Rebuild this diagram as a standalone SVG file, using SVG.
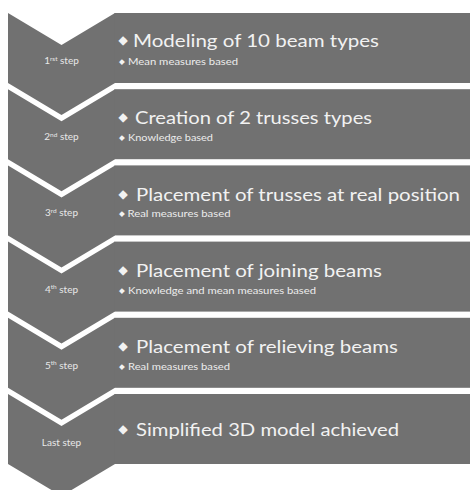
<svg xmlns="http://www.w3.org/2000/svg" width="470" height="490" viewBox="0 0 470 490">
<style>
.shape{fill:#717171}
.title{font-family:Lato,"Open Sans","Liberation Sans",sans-serif;font-size:17.5px;fill:#f2f2f2}
.sub{font-family:Lato,"Open Sans","Liberation Sans",sans-serif;font-size:8.8px;fill:#ececec}
.step{font-family:Lato,"Open Sans","Liberation Sans",sans-serif;font-size:10px;fill:#e8e8e8;text-anchor:middle}
.sup{font-size:6.5px}
.bul{font-family:"DejaVu Sans",sans-serif;fill:#f2f2f2}
.bt{font-size:12px}
.bs{font-size:7.5px}
</style>
<rect width="470" height="490" fill="#ffffff"/>
<g id="step1">
<polygon class="shape" points="8,13 61.5,45 115,13 115,83 61.5,115 8,83"/>
<rect class="shape" x="114.5" y="13" width="355.5" height="70"/>
<text class="step" x="61.5" y="64">1<tspan class="sup" dy="-3.5">rst</tspan><tspan dy="3.5"> step</tspan></text>
<text class="bul bt" x="118.5" y="44">◆</text>
<text class="title" x="133" y="47" textLength="246" lengthAdjust="spacingAndGlyphs">Modeling of 10 beam types</text>
<text class="bul bs" x="119" y="64">◆</text>
<text class="sub" x="128" y="65" textLength="110" lengthAdjust="spacingAndGlyphs">Mean measures based</text>
</g>
<g id="step2">
<polygon class="shape" points="8,89.2 61.5,121.2 115,89.2 115,159.2 61.5,191.2 8,159.2"/>
<rect class="shape" x="114.5" y="89.2" width="355.5" height="70"/>
<text class="step" x="61.5" y="140.2">2<tspan class="sup" dy="-3.5">nd</tspan><tspan dy="3.5"> step</tspan></text>
<text class="bul bt" x="118.5" y="120.5">◆</text>
<text class="title" x="135" y="123.5" textLength="237" lengthAdjust="spacingAndGlyphs">Creation of 2 trusses types</text>
<text class="bul bs" x="119" y="140.2">◆</text>
<text class="sub" x="128" y="141.2" textLength="85" lengthAdjust="spacingAndGlyphs">Knowledge based</text>
</g>
<g id="step3">
<polygon class="shape" points="8,165.4 61.5,197.4 115,165.4 115,235.4 61.5,267.4 8,235.4"/>
<rect class="shape" x="114.5" y="165.4" width="355.5" height="70"/>
<text class="step" x="61.5" y="216.4">3<tspan class="sup" dy="-3.5">rd</tspan><tspan dy="3.5"> step</tspan></text>
<text class="bul bt" x="118.5" y="197.8">◆</text>
<text class="title" x="136" y="200.8" textLength="324" lengthAdjust="spacingAndGlyphs">Placement of trusses at real position</text>
<text class="bul bs" x="119" y="216.4">◆</text>
<text class="sub" x="127.5" y="217.4" textLength="103" lengthAdjust="spacingAndGlyphs">Real measures based</text>
</g>
<g id="step4">
<polygon class="shape" points="8,241.6 61.5,273.6 115,241.6 115,311.6 61.5,343.6 8,311.6"/>
<rect class="shape" x="114.5" y="241.6" width="355.5" height="70"/>
<text class="step" x="61.5" y="292.6">4<tspan class="sup" dy="-3.5">th</tspan><tspan dy="3.5"> step</tspan></text>
<text class="bul bt" x="118.5" y="274">◆</text>
<text class="title" x="136" y="277" textLength="246" lengthAdjust="spacingAndGlyphs">Placement of joining beams</text>
<text class="bul bs" x="119" y="292.6">◆</text>
<text class="sub" x="128" y="293.6" textLength="188" lengthAdjust="spacingAndGlyphs">Knowledge and mean measures based</text>
</g>
<g id="step5">
<polygon class="shape" points="8,317.8 61.5,349.8 115,317.8 115,387.8 61.5,419.8 8,387.8"/>
<rect class="shape" x="114.5" y="317.8" width="355.5" height="70"/>
<text class="step" x="61.5" y="368.8">5<tspan class="sup" dy="-3.5">th</tspan><tspan dy="3.5"> step</tspan></text>
<text class="bul bt" x="118.5" y="350.2">◆</text>
<text class="title" x="136" y="353.2" textLength="262" lengthAdjust="spacingAndGlyphs">Placement of relieving beams</text>
<text class="bul bs" x="119" y="368.8">◆</text>
<text class="sub" x="128" y="369.8" textLength="102" lengthAdjust="spacingAndGlyphs">Real measures based</text>
</g>
<g id="step6">
<polygon class="shape" points="8,394 61.5,426 115,394 115,464 61.5,496 8,464"/>
<rect class="shape" x="114.5" y="394" width="355.5" height="70"/>
<text class="step" x="61.5" y="446">Last step</text>
<text class="bul bt" x="118.5" y="432.5">◆</text>
<text class="title" x="136" y="435.5" textLength="263" lengthAdjust="spacingAndGlyphs">Simplified 3D model achieved</text>
</g>
<g id="connectors"/>
</svg>
